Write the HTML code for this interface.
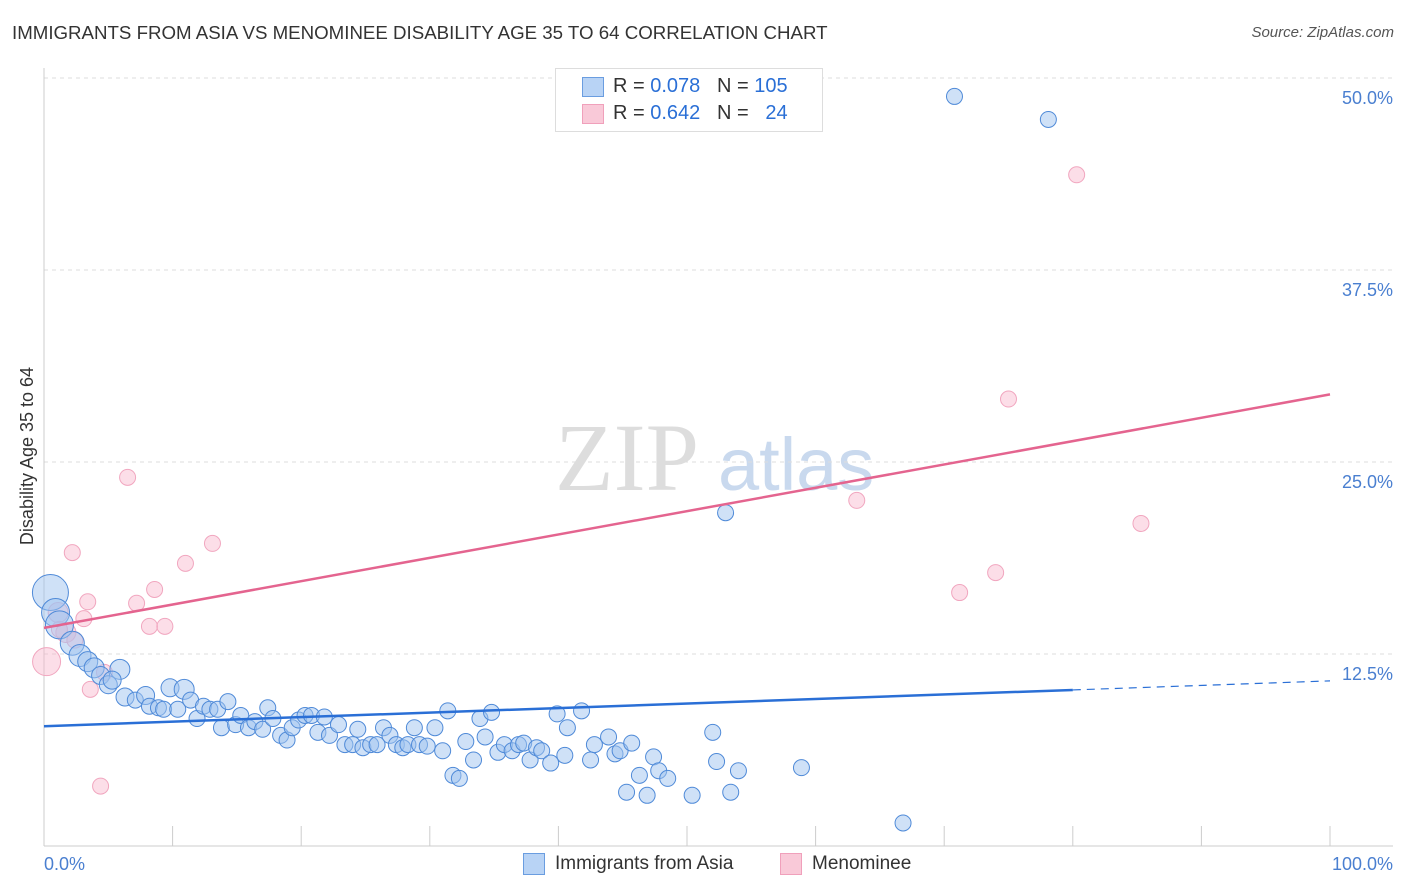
<!DOCTYPE html>
<html><head><meta charset="utf-8">
<style>
body{margin:0;background:#fff;font-family:"Liberation Sans",sans-serif;}
#wrap{position:relative;width:1406px;height:892px;overflow:hidden;}
.t{position:absolute;white-space:nowrap;}
</style></head>
<body>
<div id="wrap">
<div class="t" style="left:12px;top:22px;font-size:18.7px;color:#333;">IMMIGRANTS FROM ASIA VS MENOMINEE DISABILITY AGE 35 TO 64 CORRELATION CHART</div>
<div class="t" style="right:12px;top:24px;font-size:15px;color:#555;font-style:italic;">Source: ZipAtlas.com</div>
<svg id="svg" width="1406" height="892" style="position:absolute;left:0;top:0;"></svg>
</div>
<script>
const blueX=[0.5,0.9,1.2,2.2,2.8,3.4,3.9,4.4,5.0,5.9,5.3,6.3,7.1,7.9,8.2,8.9,9.3,9.8,10.4,10.9,11.4,11.9,12.4,12.9,13.5,13.8,14.3,14.9,15.3,15.9,16.4,17.0,17.4,17.8,18.4,18.9,19.3,19.8,20.3,20.8,21.3,21.8,22.2,22.9,23.4,24.0,24.4,24.8,25.4,25.9,26.4,26.9,27.4,27.9,28.3,28.8,29.2,29.8,30.4,31.0,31.4,31.8,32.3,32.8,33.4,33.9,34.3,34.8,35.3,35.8,36.4,36.9,37.3,37.8,38.3,38.7,39.4,39.9,40.5,40.7,41.8,42.5,42.8,43.9,44.4,44.8,45.3,45.7,46.3,46.9,47.4,47.8,48.5,50.4,52.0,52.3,53.0,53.4,54.0,58.9,66.8,70.8,78.1];
const blueY=[16.5,15.2,14.4,13.2,12.4,12.0,11.6,11.1,10.5,11.5,10.8,9.7,9.5,9.8,9.1,9.0,8.9,10.3,8.9,10.2,9.5,8.3,9.1,8.9,8.9,7.7,9.4,7.9,8.5,7.7,8.1,7.6,9.0,8.3,7.2,6.9,7.7,8.2,8.5,8.5,7.4,8.4,7.2,7.9,6.6,6.6,7.6,6.4,6.6,6.6,7.7,7.2,6.6,6.4,6.6,7.7,6.6,6.5,7.7,6.2,8.8,4.6,4.4,6.8,5.6,8.3,7.1,8.7,6.1,6.6,6.2,6.6,6.7,5.6,6.4,6.2,5.4,8.6,5.9,7.7,8.8,5.6,6.6,7.1,6.0,6.2,3.5,6.7,4.6,3.3,5.8,4.9,4.4,3.3,7.4,5.5,21.7,3.5,4.9,5.1,1.5,48.8,47.3];
const blueR=[18,14,14,12,11,10,10,9,9,10,9,9,8,9,8,8,8,9,8,10];
const pinkX=[0.2,1.1,1.7,2.2,3.1,3.4,3.6,4.4,4.7,6.5,7.2,8.2,8.6,9.4,11.0,13.1,63.2,71.2,74.0,75.0,80.3,85.3,1.2,2.4];
const pinkY=[12.0,15.2,13.9,19.1,14.8,15.9,10.2,3.9,11.3,24.0,15.8,14.3,16.7,14.3,18.4,19.7,22.5,16.5,17.8,29.1,43.7,21.0,14.1,13.4];
const pinkR=[14,10,10];
const yTicks=[12.5,25.0,37.5,50.0];
const blueLine=[7.8,0.0295]; // intercept, slope per %
const pinkLine=[14.2,0.152];
const X0=44,X1=1330,Y0=846,PX=192/12.5;
const sx=v=>X0+(X1-X0)*v/100, sy=v=>Y0-v*PX;
const svg=document.getElementById('svg');const NS='http://www.w3.org/2000/svg';
function mk(t,a){const e=document.createElementNS(NS,t);for(const k in a)e.setAttribute(k,a[k]);svg.appendChild(e);return e;}
let w=mk('text',{x:555,y:490,'font-size':96,fill:'#ddd','font-family':'Liberation Serif'});w.textContent='ZIP';


w=mk('text',{x:718,y:490,'font-size':74,fill:'#c9d9ee','font-family':'Liberation Sans'});w.textContent='atlas';


yTicks.forEach(v=>{const y=sy(v);
 const g=mk('line',{x1:X0,x2:1393,y1:y,y2:y,stroke:'#ddd','stroke-dasharray':'4,4'});
 
 
 const t=mk('text',{x:1393,y:y+26,'text-anchor':'end','font-size':18,fill:'#4a7fd0'});t.textContent=v.toFixed(1)+'%';
 
 });
let ax=mk('line',{x1:X0,x2:X0,y1:68,y2:Y0,stroke:'#ccc'});


ax=mk('line',{x1:X0,x2:1393,y1:Y0,y2:Y0,stroke:'#ccc'});


for(let i=0;i<=10;i++){const x=sx(i*10);const t=mk('line',{x1:x,x2:x,y1:826,y2:Y0,stroke:'#ccc'});
 
 }
[['0.0%',44,'start'],['100.0%',1393,'end']].forEach(a=>{const t=mk('text',{x:a[1],y:870,'text-anchor':a[2],'font-size':18,fill:'#4a7fd0'});t.textContent=a[0];
 
 });
const yt=mk('text',{x:33,y:456,transform:'rotate(-90 33 456)','text-anchor':'middle','font-size':18,fill:'#333'});yt.textContent='Disability Age 35 to 64';


pinkX.forEach((v,i)=>{const c=mk('circle',{cx:sx(v),cy:sy(pinkY[i]),r:pinkR[i]||8,fill:'rgba(248,182,204,0.45)',stroke:'#f1a6bf','stroke-width':1});
 
 });
blueX.forEach((v,i)=>{const c=mk('circle',{cx:sx(v),cy:sy(blueY[i]),r:blueR[i]||8,fill:'rgba(160,196,240,0.5)',stroke:'#4f8ad8','stroke-width':1});
 
 });
let l=mk('line',{x1:sx(0),y1:sy(blueLine[0]),x2:sx(80),y2:sy(blueLine[0]+80*blueLine[1]),stroke:'#2a6fd6','stroke-width':2.5});


l=mk('line',{x1:sx(80),y1:sy(blueLine[0]+80*blueLine[1]),x2:sx(100),y2:sy(blueLine[0]+100*blueLine[1]),stroke:'#2a6fd6','stroke-width':1.2,'stroke-dasharray':'8,6'});


l=mk('line',{x1:sx(0),y1:sy(pinkLine[0]),x2:sx(100),y2:sy(pinkLine[0]+100*pinkLine[1]),stroke:'#e4648f','stroke-width':2.5});


</script>
<div class="t" style="left:555px;top:68px;width:266px;height:62px;border:1px solid #ddd;background:#fff;">
 <div class="t" style="left:26px;top:8px;width:20px;height:18px;background:#b8d3f5;border:1px solid #6a9de0;"></div>
 <div class="t" style="left:57px;top:6px;font-size:20px;color:#333;">R = <span style="color:#2a6fd6">0.078</span> &nbsp; N = <span style="color:#2a6fd6">105</span></div>
 <div class="t" style="left:26px;top:35px;width:20px;height:18px;background:#f9c9d8;border:1px solid #f0a0bb;"></div>
 <div class="t" style="left:57px;top:33px;font-size:20px;color:#333;">R = <span style="color:#2a6fd6">0.642</span> &nbsp; N = &nbsp; <span style="color:#2a6fd6">24</span></div>
</div>
<div class="t" style="left:523px;top:853px;width:20px;height:20px;background:#b8d3f5;border:1px solid #6a9de0;"></div>
<div class="t" style="left:555px;top:853px;font-size:19px;color:#333;">Immigrants from Asia</div>
<div class="t" style="left:780px;top:853px;width:20px;height:20px;background:#f9c9d8;border:1px solid #f0a0bb;"></div>
<div class="t" style="left:812px;top:853px;font-size:19px;color:#333;">Menominee</div>
</body></html>
